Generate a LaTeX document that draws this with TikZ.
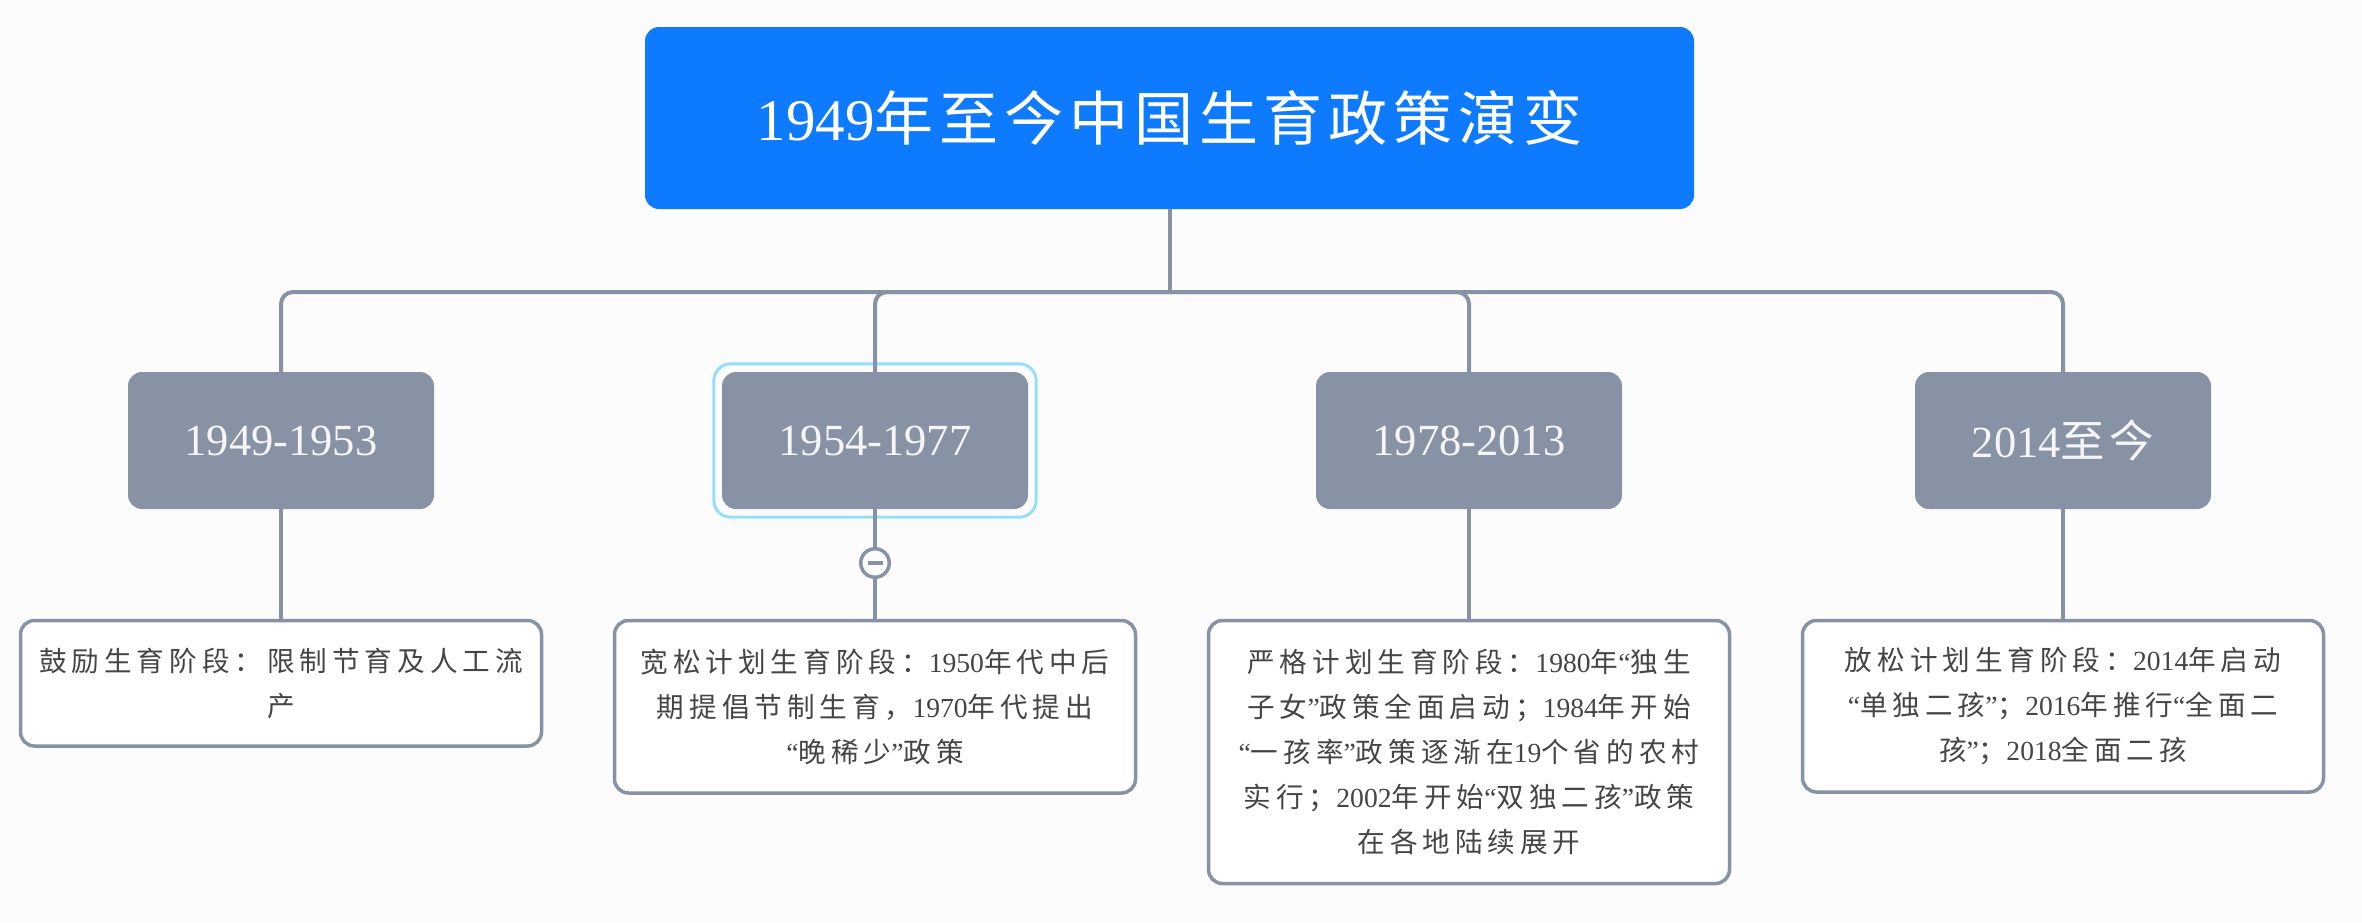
\documentclass[tikz,border=0pt]{standalone}
\usepackage{fontspec}
\setmainfont{Liberation Serif}
\newfontfamily\cjkD[LetterSpace=18]{Noto Sans CJK SC}
\newfontfamily\cjkT[LetterSpace=10]{Noto Sans CJK SC}
\newcommand\zh[1]{{\cjkD #1}}
\newcommand\zt[1]{{\cjkT #1}}
\usetikzlibrary{fit}

\definecolor{bg}{HTML}{FCFCFD}
\definecolor{titleblue}{HTML}{0E7BFF}
\definecolor{linegray}{HTML}{8792A4}
\definecolor{framecyan}{HTML}{96DEFA}
\definecolor{stagetext}{HTML}{F6F6F8}
\definecolor{detailtext}{HTML}{454545}

\begin{document}
\begin{tikzpicture}[x=1pt,y=-1pt,
  conn/.style={draw=linegray, line width=4pt},
  titlebox/.style={fill=titleblue, rounded corners=14pt, minimum width=1049pt,
    minimum height=182pt, text=white, inner sep=0pt,
    font=\fontsize{59}{64}\selectfont},
  stagebox/.style={fill=linegray, rounded corners=14pt, minimum width=306pt,
    minimum height=137pt, text=stagetext, inner sep=0pt,
    font=\fontsize{44.5}{50}\selectfont},
  detailbox/.style={draw=linegray, line width=3.5pt, fill=white,
    rounded corners=14pt, minimum width=521pt, text=detailtext,
    align=center, anchor=north, inner sep=0pt,
    font=\fontsize{27.6}{45}\selectfont},
]
% canvas
\fill[bg] (0,0) rectangle (2362,922);
\useasboundingbox (0,0) rectangle (2362,922);

% root
\node[titlebox] (title) at (1169.5,118) {1949\zt{年至今中国生育政策演变}};

% periods
\node[stagebox] (s1) at (281,440.5) {1949-1953};
\node[stagebox] (s2) at (875,440.5) {1954-1977};
\node[stagebox] (s3) at (1469,440.5) {1978-2013};
\node[stagebox, minimum width=296pt] (s4) at (2063,440.5) {2014\zt{至今}};

% selection frame around the second period
\node[fit=(s2), inner sep=8pt, draw=framecyan, line width=3pt,
  rounded corners=17pt] (s2frame) {};

% descriptions
\node[detailbox, minimum height=125.5pt] (d1) at (281,618.75)
  {\zh{鼓励生育阶段：限制节育及人工流}\\\zh{产}};
\node[detailbox, minimum height=172.5pt] (d2) at (875,618.75)
  {\zh{宽松计划生育阶段：}1950\zh{年代中后}\\
   \zh{期提倡节制生育，}1970\zh{年代提出}\\
   “\zh{晚稀少}”\zh{政策}};
\node[detailbox, minimum height=263pt] (d3) at (1469,618.75)
  {\zh{严格计划生育阶段：}1980\zh{年}“\zh{独生}\\
   \zh{子女}”\zh{政策全面启动；}1984\zh{年开始}\\
   “\zh{一孩率}”\zh{政策逐渐在}19\zh{个省的农村}\\
   \zh{实行；}2002\zh{年开始}“\zh{双独二孩}”\zh{政策}\\
   \zh{在各地陆续展开}};
\node[detailbox, minimum height=171.5pt] (d4) at (2063,618.75)
  {\zh{放松计划生育阶段：}2014\zh{年启动}\\
   “\zh{单独二孩}”\zh{；}2016\zh{年推行}“\zh{全面二}\\
   \zh{孩}”\zh{；}2018\zh{全面二孩}};

% connectors
\coordinate (bus) at (0,292);
\draw[conn] (title.south) -- (title.south |- bus);
\foreach \s in {s1,s2,s3,s4}
  \draw[conn, rounded corners=12pt] (title.south |- bus) -- (\s.north |- bus) -- (\s.north);
\draw[conn] (s1.south) -- (d1.north);
\draw[conn] (s2.south) -- (d2.north);
\draw[conn] (s3.south) -- (d3.north);
\draw[conn] (s4.south) -- (d4.north);

% collapse toggle
\node[circle, draw=linegray, line width=3.5pt, fill=bg, minimum size=28.5pt,
  inner sep=0pt] (fold) at (875,563) {};
\draw[linegray, line width=3.5pt] ([xshift=-7.5pt]fold.center) -- ([xshift=7.5pt]fold.center);
\end{tikzpicture}
\end{document}
